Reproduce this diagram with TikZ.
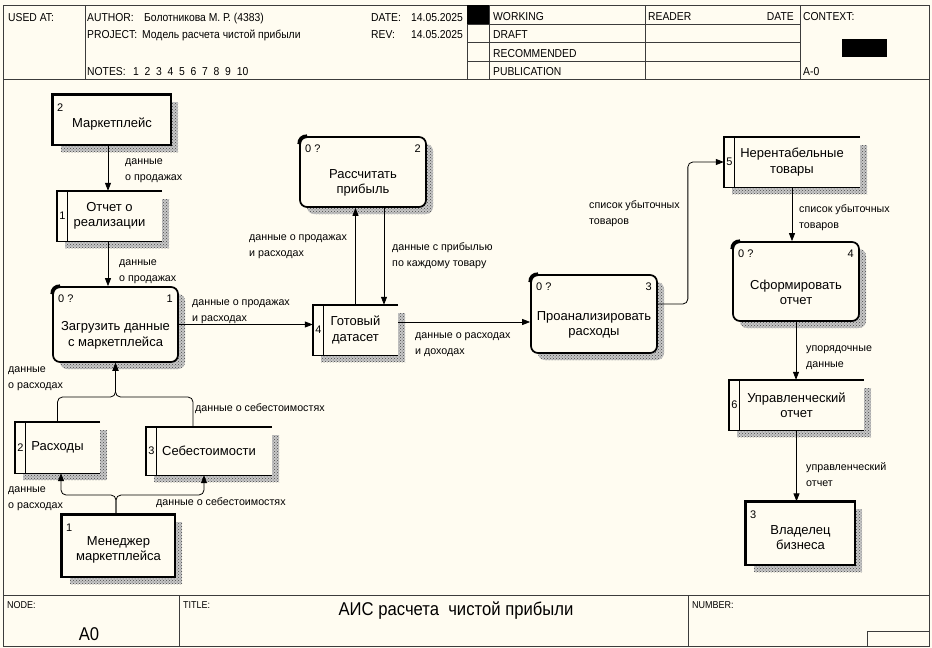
\documentclass[tikz,border=0pt]{standalone}
\usepackage{fontspec}
\setmainfont{Liberation Sans}
\newfontfamily\hdrfam[FakeStretch=0.9]{Liberation Sans}
\usetikzlibrary{patterns,arrows.meta,calc}
\definecolor{bgc}{RGB}{255,252,241}
\definecolor{framec}{RGB}{60,60,60}
\definecolor{shdc}{RGB}{70,70,70}
\newcommand\hfnt{\hdrfam\fontsize{11.5}{13}\selectfont}
\newcommand\lfnt{\fontsize{10.7}{16}\selectfont}
\newcommand\bfnt{\fontsize{13}{15.5}\selectfont}
\newcommand\nfnt{\fontsize{11}{13}\selectfont}

\newcommand\ExtEnt[7]{%
  \fill[shd] ({#2+8},{#3+7}) rectangle ({#4+7},{#5+7});
  \node[extbox, minimum width={(#4-#2)*1pt}, minimum height={(#5-#3)*1pt}] (#1) at ({(#2+#4)/2},{(#3+#5)/2}) {};
  \draw[line width=3pt] (#1.south west) -- (#1.north west) -- (#1.north east);
  \node[btxt] (#1-t) at ({(#2+#4)/2},{(#3+#5)/2+4}) {#7};
  \node[ntxt, anchor=base west] (#1-n) at ({#2+4},{#3+16}) {#6};
}
\newcommand\DStore[7]{%
  \fill[shd] ({#2+8},{#3+8}) rectangle ({#4+7},{#5+7});
  \node[dsbox, minimum width={(#4-#2)*1pt}, minimum height={(#5-#3)*1pt}] (#1) at ({(#2+#4)/2},{(#3+#5)/2}) {#7};
  \draw[dsline] (#1.north east) -- (#1.north west) -- (#1.south west) -- (#1.south east);
  \draw[line width=1pt] ([xshift=11pt]#1.north west) -- ([xshift=11pt]#1.south west);
  \node[ntxt] (#1-n) at ({#2+5.5},{(#3+#5)/2}) {#6};
}
\newcommand\Proc[7]{%
  \fill[shd, rounded corners=7pt] ({#2+7},{#3+7}) rectangle ({#4+7},{#5+7});
  \node[procbox, minimum width={(#4-#2)*1pt}, minimum height={(#5-#3)*1pt}] (#1) at ({(#2+#4)/2},{(#3+#5)/2}) {};
  \draw[line width=3.6pt] ([yshift=-8pt]#1.north west) .. controls ([yshift=-3pt]#1.north west) and ([xshift=3pt]#1.north west) .. ([xshift=8pt]#1.north west);
  \node[btxt] (#1-t) at ({(#2+#4)/2},{(#3+#5)/2+11}) {#7};
  \node[ntxt, anchor=base west] (#1-q) at ({#2+5},{#3+15}) {0 ?};
  \node[ntxt, anchor=base east] (#1-n) at ({#4-5},{#3+15}) {#6};
}

\begin{document}
\begin{tikzpicture}[x=1pt,y=-1pt,
  framel/.style={draw=framec, line width=1pt},
  hd/.style={font=\hfnt, anchor=base west, inner sep=0},
  shd/.style={fill=black!22, postaction={pattern=crosshatch dots, pattern color=shdc}},
  extbox/.style={draw, line width=1.3pt, fill=bgc, inner sep=0},
  dsbox/.style={fill=bgc, inner sep=0, font=\bfnt, align=center},
  dsline/.style={line width=1.4pt},
  procbox/.style={draw, line width=1.7pt, fill=bgc, rounded corners=7pt, inner sep=0},
  btxt/.style={font=\bfnt, align=center, inner sep=0},
  ntxt/.style={font=\nfnt, inner sep=0},
  lbl/.style={font=\lfnt, align=left, anchor=base west, inner sep=0},
  flow/.style={line width=0.8pt, -{Triangle[length=8pt,width=6pt]}}
]
\useasboundingbox (0,0) rectangle (932,648);
\fill[bgc] (0,0) rectangle (932,648);

% ---------- frame and header ----------
\draw[framel] (3,5) rectangle (929,646);
\draw[framel] (3,79) -- (929,79);
\draw[framel] (85,5) -- (85,79);
\draw[framel] (467,5) -- (467,79);
\draw[framel] (489,5) -- (489,79);
\draw[framel] (645,5) -- (645,79);
\draw[framel] (800,5) -- (800,79);
\draw[framel] (467,24) -- (800,24);
\draw[framel] (467,42) -- (800,42);
\draw[framel] (467,61) -- (800,61);
\fill[black] (467,5) rectangle (489,24);
\fill[black] (842,39) rectangle (887,57);

\node[hd] (usedat) at (8,21) {USED AT:};
\node[hd] (author) at (87,21) {AUTHOR:};
\node[hd] (authorv) at (144,21) {Болотникова М. Р. (4383)};
\node[hd] (project) at (87,38) {PROJECT:};
\node[hd] (projectv) at (142,38) {Модель расчета чистой прибыли};
\node[hd] (notes) at (87,75) {NOTES:};
\node[hd] (notesv) at (133,75) {1\ \ 2\ \ 3\ \ 4\ \ 5\ \ 6\ \ 7\ \ 8\ \ 9\ \ 10};
\node[hd] (date) at (371,21) {DATE:};
\node[hd] (datev) at (411,21) {14.05.2025};
\node[hd] (rev) at (371,38) {REV:};
\node[hd] (revv) at (411,38) {14.05.2025};
\node[hd] (working) at (493,20) {WORKING};
\node[hd] (draft) at (493,38) {DRAFT};
\node[hd] (recom) at (493,57) {RECOMMENDED};
\node[hd] (publ) at (493,75) {PUBLICATION};
\node[hd] (reader) at (648,20) {READER};
\node[hd, anchor=base east] (rdate) at (794,20) {DATE};
\node[hd] (context) at (803,20) {CONTEXT:};
\node[hd] (actx) at (803,75) {A-0};

% ---------- footer ----------
\draw[framel] (3,595) -- (929,595);
\draw[framel] (179,595) -- (179,646);
\draw[framel] (688,595) -- (688,646);
\draw[framel] (867,646) -- (867,631) -- (929,631);
\node[hd, font=\hdrfam\fontsize{10}{12}\selectfont] (nodel) at (7,608) {NODE:};
\node[hd, font=\hdrfam\fontsize{10}{12}\selectfont] (titlel) at (183,608) {TITLE:};
\node[hd, font=\hdrfam\fontsize{10}{12}\selectfont] (numberl) at (692,608) {NUMBER:};
\node[hd, anchor=base, font=\hdrfam\fontsize{18.5}{20}\selectfont] (nodev) at (89,640) {A0};
\node[hd, anchor=base, font=\hdrfam\fontsize{18.5}{20}\selectfont] (titlev) at (456,615) {АИС расчета\ \ чистой прибыли};

% ---------- elements ----------
\ExtEnt{mp}{53}{95}{171}{145}{2}{Маркетплейс}
\DStore{otch}{57}{191}{162}{241}{1}{Отчет о\\реализации}
\Proc{zag}{53}{287}{178}{362}{1}{Загрузить данные\\с маркетплейса}
\DStore{rash}{15}{422}{100}{473}{2}{Расходы}
\DStore{sebes}{146}{427}{272}{475}{3}{Себестоимости}
\ExtEnt{men}{62}{515}{175}{577}{1}{Менеджер\\маркетплейса}
\DStore{ds}{313}{305}{398}{355}{4}{Готовый\\датасет}
\Proc{calc}{300}{137}{426}{207}{2}{Рассчитать\\прибыль}
\Proc{an}{531}{275}{657}{353}{3}{Проанализировать\\расходы}
\DStore{ner}{724}{137}{860}{187}{5}{Нерентабельные\\товары}
\Proc{form}{733}{242}{859}{321}{4}{Сформировать\\отчет}
\DStore{upr}{729}{380}{864}{430}{6}{Управленческий\\отчет}
\ExtEnt{vlad}{746}{502}{855}{565}{3}{Владелец\\бизнеса}

% ---------- connectors ----------
\draw[flow] ([xshift=-4pt]mp.south) -- ([xshift=-4pt]mp.south |- otch.north);
\draw[flow] ([xshift=-1.5pt]otch.south) -- ([xshift=-1.5pt]otch.south |- zag.north);
\draw[flow] (zag.east) -- (zag.east -| ds.west);
\draw[flow] (ds.north) -- (ds.north |- calc.south);
\draw[flow] ([xshift=21pt]calc.south) -- ([xshift=21pt]calc.south |- ds.north);
\draw[flow] ([yshift=8pt]ds.east) -- ([yshift=8pt]ds.east -| an.west);
\draw[flow, rounded corners=5pt] ([yshift=10pt]an.east) -- ++(30,0) |- (ner.west);
\draw[flow] (ner.south) -- (ner.south |- form.north);
\draw[flow] (form.south) -- (form.south |- upr.north);
\draw[flow] (upr.south) -- (upr.south |- vlad.north);

\coordinate (j1) at (116,397);
\coordinate (j2) at (116,495);
\draw[flow, rounded corners=5pt] (rash.north) |- (zag.south |- j1) -- (zag.south);
\draw[flow, rounded corners=5pt] ([xshift=-16pt]sebes.north) |- (zag.south |- j1) -- (zag.south);
\draw[flow, rounded corners=5pt] ([xshift=-2.5pt]men.north) -- ([xshift=-2.5pt]men.north |- j2) -| ([xshift=3.5pt]rash.south);
\draw[flow, rounded corners=5pt] ([xshift=-2.5pt]men.north) -- ([xshift=-2.5pt]men.north |- j2) -| ([xshift=-5pt]sebes.south);

% ---------- labels (base = last line) ----------
\node[lbl] (l1) at (125,180) {данные\\о продажах};
\node[lbl] (l2) at (119,281) {данные\\о продажах};
\node[lbl] (l3) at (192,321) {данные о продажах\\ и расходах};
\node[lbl] (l4) at (8,388) {данные\\о расходах};
\node[lbl] (l5) at (195,411) {данные о себестоимостях};
\node[lbl] (l6) at (8,508) {данные\\о расходах};
\node[lbl] (l7) at (156,505) {данные о себестоимостях};
\node[lbl] (l8) at (249,256) {данные о продажах\\и расходах};
\node[lbl] (l9) at (392,266) {данные с прибылью\\по каждому товару};
\node[lbl] (l10) at (415,354) {данные о расходах\\и доходах};
\node[lbl] (l11) at (589,224) {список убыточных\\товаров};
\node[lbl] (l12) at (799,228) {список убыточных\\товаров};
\node[lbl] (l13) at (806,367) {упорядочные\\данные};
\node[lbl] (l14) at (806,486) {управленческий\\отчет};
\end{tikzpicture}
\end{document}
